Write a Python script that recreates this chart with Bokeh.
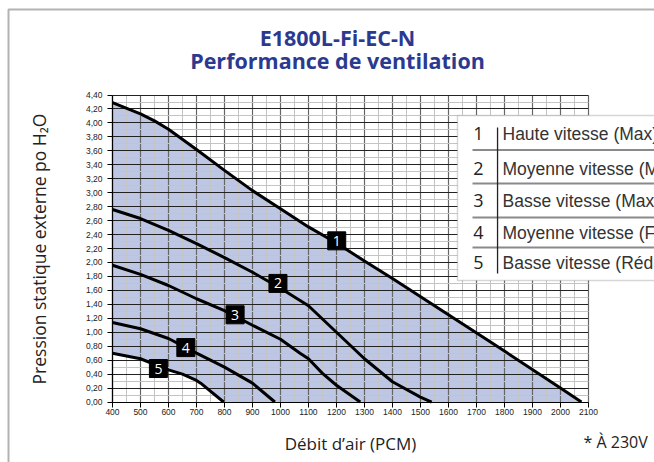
from bokeh.plotting import figure
from bokeh.models import (SingleIntervalTicker, CustomJSTickFormatter, Label,
                          BoxAnnotation, Range1d, ColumnDataSource)
from bokeh.core.properties import value
from bokeh.embed import file_html
from bokeh.resources import INLINE

# ---------------- data ----------------
c1_x = [400, 500, 550, 600, 700, 800, 900, 1000, 1100, 1200, 1300, 1400, 1600, 1800, 2000, 2075]
c1_y = [4.29, 4.13, 4.03, 3.91, 3.62, 3.32, 3.03, 2.77, 2.51, 2.28, 2.02, 1.77, 1.25, 0.73, 0.20, 0.0]
c2_x = [400, 500, 600, 700, 800, 900, 1000, 1100, 1200, 1300, 1400, 1500, 1540]
c2_y = [2.76, 2.63, 2.46, 2.27, 2.07, 1.86, 1.63, 1.38, 1.00, 0.62, 0.29, 0.07, 0.0]
c3_x = [400, 500, 600, 700, 800, 900, 1000, 1070, 1100, 1150, 1200, 1285]
c3_y = [1.96, 1.83, 1.67, 1.48, 1.31, 1.10, 0.90, 0.70, 0.62, 0.41, 0.24, 0.0]
c4_x = [400, 500, 600, 700, 800, 900, 980]
c4_y = [1.14, 1.05, 0.91, 0.70, 0.50, 0.27, 0.0]
c5_x = [400, 500, 600, 650, 700, 715, 797]
c5_y = [0.70, 0.62, 0.46, 0.40, 0.31, 0.27, 0.0]

curves_x = [c1_x, c2_x, c3_x, c4_x, c5_x]
curves_y = [c1_y, c2_y, c3_y, c4_y, c5_y]

tag_x = [1201, 991, 838, 662, 564]
tag_y = [2.31, 1.70, 1.25, 0.78, 0.48]
tag_text = ["1", "2", "3", "4", "5"]

legend_nums = ["1", "2", "3", "4", "5"]
legend_texts = ["Haute vitesse (Max)", "Moyenne vitesse (Max)", "Basse vitesse (Max)",
                "Moyenne vitesse (Faible)", "Basse vitesse (Réduite)"]

title_lines = ["E1800L-Fi-EC-N", "Performance de ventilation"]
x_label = "Débit d’air (PCM)"
y_label = "Pression statique externe po H₂O"
note = "* À 230V"

X_MIN, X_MAX = 400, 2100
Y_MIN, Y_MAX = 0, 4.4

# ---------------- figure ----------------
# the frame covers the whole canvas; axes are pinned at the data origin
p = figure(width=654, height=462, min_border=0,
           x_range=Range1d(0, 2336), y_range=Range1d(-0.867, 5.755),
           output_backend="svg", toolbar_location=None)
p.background_fill_color = "white"
p.border_fill_color = "white"
p.outline_line_color = None

# fill between curve 1 and curve 5
fill_x = c1_x + c5_x[::-1]
fill_y = c1_y + c5_y[::-1]
p.patch(fill_x, fill_y, fill_color="#BDC7E3", line_color=None, level="image")

# axes / grid
xt = SingleIntervalTicker(interval=100, num_minor_ticks=2)
yt = SingleIntervalTicker(interval=0.2, num_minor_ticks=2)
p.xaxis.ticker = xt
p.yaxis.ticker = yt
p.xgrid.ticker = xt
p.ygrid.ticker = yt
p.xaxis.bounds = (X_MIN, X_MAX)
p.yaxis.bounds = (Y_MIN, Y_MAX)
p.xaxis.fixed_location = Y_MIN
p.yaxis.fixed_location = X_MIN
p.xgrid.bounds = (X_MIN, X_MAX)
p.ygrid.bounds = (Y_MIN, Y_MAX)
p.xgrid.cross_bounds = (Y_MIN, Y_MAX)
p.ygrid.cross_bounds = (X_MIN, X_MAX)
p.xgrid.grid_line_color = "#666666"
p.xgrid.grid_line_width = 1.2
p.ygrid.grid_line_color = "#222222"
p.ygrid.grid_line_width = 1
p.xgrid.minor_grid_line_color = "#c4c4c4"
p.ygrid.minor_grid_line_color = "#c4c4c4"
p.xgrid.minor_grid_line_width = 1
p.ygrid.minor_grid_line_width = 1

p.yaxis.formatter = CustomJSTickFormatter(code="return tick.toFixed(2).replace('.', ',');")
for ax in (p.xaxis, p.yaxis):
    ax.axis_line_color = "black"
    ax.axis_line_width = 1.2
    ax.major_tick_line_color = "black"
    ax.major_tick_out = 5
    ax.major_tick_in = 0
    ax.minor_tick_out = 0
    ax.minor_tick_in = 0
    ax.major_label_text_font = "Liberation Sans"
    ax.major_label_text_font_size = "8.5px"
    ax.major_label_text_color = "#222222"
    ax.axis_label_text_font = "Open Sans"
    ax.axis_label_text_font_style = "normal"
    ax.axis_label_text_color = "#222222"
p.xaxis.axis_label_text_font_size = "17px"
p.yaxis.axis_label_text_font_size = "17.5px"
p.xaxis.major_label_standoff = 2
p.yaxis.major_label_standoff = 5
p.xaxis.axis_label = x_label
p.yaxis.axis_label = y_label
p.xaxis.axis_label_standoff = 13
p.yaxis.axis_label_standoff = 32

# curves
for xs, ys in zip(curves_x, curves_y):
    p.line(xs, ys, line_color="black", line_width=3)

# curve tags
src = ColumnDataSource(dict(x=tag_x, y=tag_y, t=tag_text))
p.scatter("x", "y", source=src, marker="square", size=18, fill_color="black", line_color="black")
p.text("x", "y", text="t", source=src, text_color="white", text_align="center",
       text_baseline="middle", text_font=value("Open Sans"), text_font_size="14px")

def box(left, right, top, bottom, **kw):
    return BoxAnnotation(left=left, right=right, top=top, bottom=bottom,
                         left_units="canvas", right_units="canvas",
                         top_units="canvas", bottom_units="canvas", **kw)

# titles
for txt, yy in zip(title_lines, [37, 60]):
    p.add_layout(Label(x=337, y=yy, x_units="canvas", y_units="canvas", text=txt,
                       text_align="center", text_baseline="middle", text_font="Open Sans",
                       text_font_style="bold", text_font_size="21.5px", text_color="#2B3A8F"))

p.add_layout(Label(x=583, y=441, x_units="canvas", y_units="canvas", text=note,
                   text_align="left", text_baseline="middle", text_font="Open Sans",
                   text_font_size="16px", text_color="#222222"))

# legend table
p.add_layout(box(457, 700, 115, 280, fill_color="white", fill_alpha=1,
                 line_color="#777777", line_width=1.5))
row_y = [133, 168, 200, 232, 262]
sep_y = [149.5, 183, 217, 247]
for sy in sep_y:
    p.add_layout(box(472, 700, sy - 1, sy + 1, fill_color="#8a8a8a", fill_alpha=1, line_color=None))
p.add_layout(box(496.4, 497.7, 127, 273, fill_color="#222222", fill_alpha=1, line_color=None))
for num, txt, ry in zip(legend_nums, legend_texts, row_y):
    p.add_layout(Label(x=478, y=ry, x_units="canvas", y_units="canvas", text=num,
                       text_align="center", text_baseline="middle", text_font="Open Sans",
                       text_font_size="18px", text_color="#222222"))
    p.add_layout(Label(x=502, y=ry, x_units="canvas", y_units="canvas", text=txt,
                       text_align="left", text_baseline="middle", text_font="Liberation Sans",
                       text_font_size="17.5px", text_color="#333333"))

# outer frame
p.add_layout(box(8, 900, 9, 900, fill_alpha=0, line_color="black", line_width=2))

open("out.html", "w").write(file_html(p, INLINE))
